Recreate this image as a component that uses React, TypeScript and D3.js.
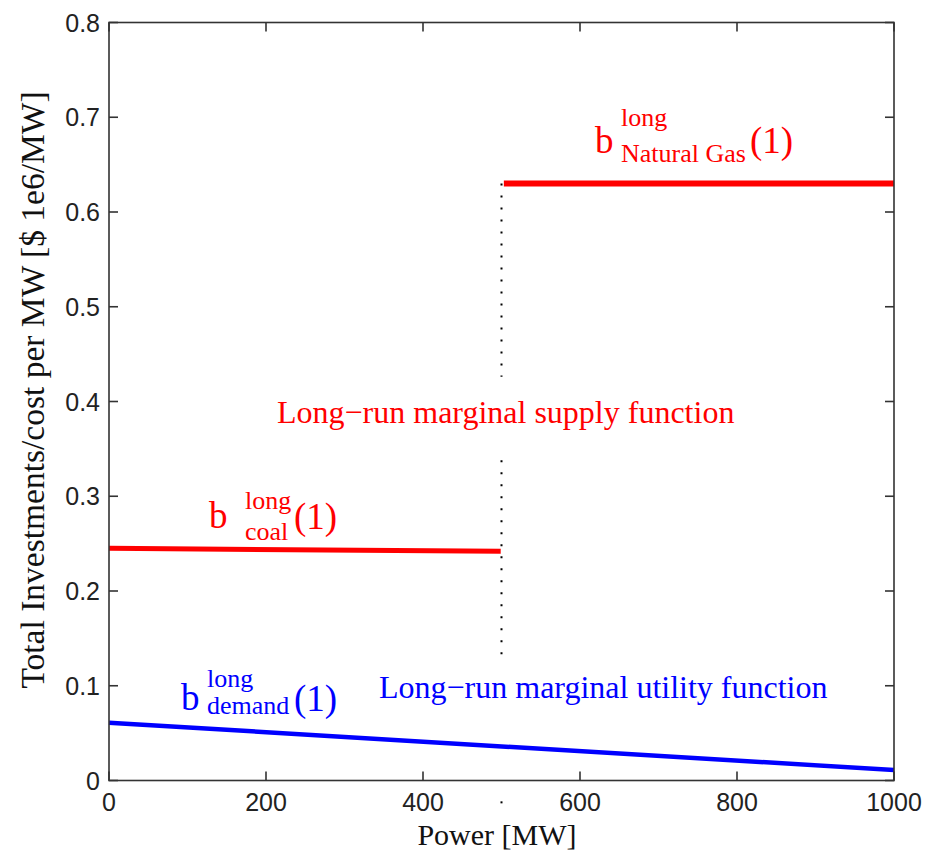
import React from "react";
import * as d3 from "d3";

const xTicks = [0, 200, 400, 600, 800, 1000];
const yTicks = [0, 0.1, 0.2, 0.3, 0.4, 0.5, 0.6, 0.7, 0.8];

const coalX = [0, 499];
const coalY = [0.245, 0.242];
const gasX = [503, 1000];
const gasY = [0.63, 0.63];
const demandX = [0, 1000];
const demandY = [0.061, 0.011];

const dividerX = 500;
const dividerSegments = [
  [0.63, 0.426],
  [0.338, 0.129],
  [-0.022, -0.032],
];

const W = 940;
const H = 855;
const L = 109, R = 894, T = 22.5, B = 780.5;

export default function App() {
  const x = d3.scaleLinear().domain([0, 1000]).range([L, R]);
  const y = d3.scaleLinear().domain([0, 0.8]).range([B, T]);
  const line = d3.line<[number, number]>().x((d) => x(d[0])).y((d) => y(d[1]));
  const pts = (xs: number[], ys: number[]) => xs.map((v, i) => [v, ys[i]] as [number, number]);

  const serif = "'Liberation Serif', 'Times New Roman', serif";
  const sans = "'Liberation Sans', Arial, sans-serif";
  const tick = 9;
  const axisColor = "#333";

  return (
    <svg
      width={W}
      height={H}
      style={{ position: "absolute", left: 0, top: 0, background: "#fff" }}
    >
      <rect x={0} y={0} width={W} height={H} fill="#fff" />
      {dividerSegments.map((s, i) => (
        <line
          key={i}
          x1={x(dividerX)}
          x2={x(dividerX)}
          y1={y(s[0])}
          y2={y(s[1])}
          stroke="#000"
          strokeWidth={2}
          strokeDasharray="2,10"
        />
      ))}
      <path d={line(pts(coalX, coalY)) || ""} stroke="#ff0000" strokeWidth={5} fill="none" />
      <path d={line(pts(gasX, gasY)) || ""} stroke="#ff0000" strokeWidth={6} fill="none" />
      <path d={line(pts(demandX, demandY)) || ""} stroke="#0000ff" strokeWidth={4.5} fill="none" />

      <rect x={L} y={T} width={R - L} height={B - T} fill="none" stroke={axisColor} strokeWidth={1.6} />
      {xTicks.map((t) => (
        <g key={"x" + t}>
          <line x1={x(t)} x2={x(t)} y1={B} y2={B - tick} stroke={axisColor} strokeWidth={1.6} />
          <line x1={x(t)} x2={x(t)} y1={T} y2={T + tick} stroke={axisColor} strokeWidth={1.6} />
          <text x={x(t)} y={811} textAnchor="middle" fontFamily={sans} fontSize={25} fill="#222">
            {t}
          </text>
        </g>
      ))}
      {yTicks.map((t) => (
        <g key={"y" + t}>
          <line x1={L} x2={L + tick} y1={y(t)} y2={y(t)} stroke={axisColor} strokeWidth={1.6} />
          <line x1={R} x2={R - tick} y1={y(t)} y2={y(t)} stroke={axisColor} strokeWidth={1.6} />
          <text x={100} y={y(t) + 9} textAnchor="end" fontFamily={sans} fontSize={25} fill="#222">
            {String(+t.toFixed(1))}
          </text>
        </g>
      ))}

      <text x={497} y={845} textAnchor="middle" fontFamily={serif} fontSize={30} fill="#111">
        Power [MW]
      </text>
      <text
        transform="translate(44,390) rotate(-90)"
        textAnchor="middle"
        fontFamily={serif}
        fontSize={33.5}
        fill="#111"
      >
        Total Investments/cost per MW [$ 1e6/MW]
      </text>

      <text x={277} y={423} fontFamily={serif} fontSize={32} fill="#ff0000">
        Long−run marginal supply function
      </text>
      <text x={379} y={698} fontFamily={serif} fontSize={32} fill="#0000ff">
        Long−run marginal utility function
      </text>

      <g fontFamily={serif} fill="#ff0000">
        <text x={209} y={528} fontSize={37}>b</text>
        <text x={245} y={509} fontSize={26}>long</text>
        <text x={245} y={540} fontSize={26}>coal</text>
        <text x={294} y={529} fontSize={37}>(1)</text>
      </g>
      <g fontFamily={serif} fill="#ff0000">
        <text x={595} y={153} fontSize={37}>b</text>
        <text x={621} y={126} fontSize={26}>long</text>
        <text x={621} y={162} fontSize={26}>Natural Gas</text>
        <text x={750} y={153} fontSize={37}>(1)</text>
      </g>
      <g fontFamily={serif} fill="#0000ff">
        <text x={181} y={710} fontSize={37}>b</text>
        <text x={207} y={687} fontSize={26}>long</text>
        <text x={207} y={714} fontSize={26}>demand</text>
        <text x={294} y={711} fontSize={37}>(1)</text>
      </g>
    </svg>
  );
}
